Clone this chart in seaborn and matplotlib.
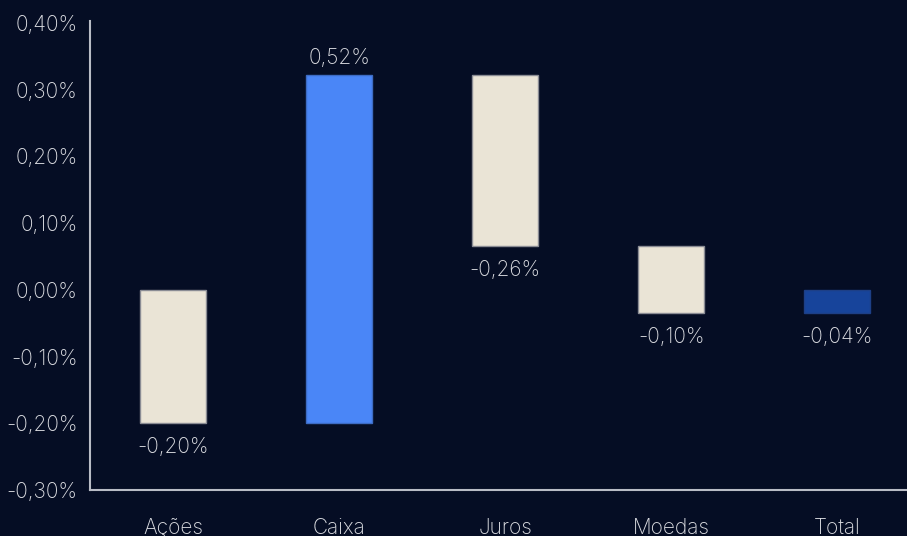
import matplotlib
matplotlib.use("Agg")
import matplotlib.pyplot as plt
import seaborn as sns
import numpy as np

# waterfall data (in %)
categories = ["Ações", "Caixa", "Juros", "Moedas", "Total"]
steps = [-0.20, 0.522, -0.257, -0.10]
labels = ["-0,20%", "0,52%", "-0,26%", "-0,10%", "-0,04%"]
yticks = [-0.30, -0.20, -0.10, 0.0, 0.10, 0.20, 0.30, 0.40]
ytick_labels = ["-0,30%", "-0,20%", "-0,10%", "0,00%", "0,10%", "0,20%", "0,30%", "0,40%"]

bg = "#050d24"
fg = "#dcdde2"
colors = ["#eae4d6", "#4a86f7", "#eae4d6", "#eae4d6", "#17449b"]
edges = ["#8a8c94", "#3d6cc4", "#8a8c94", "#8a8c94", "#1d3f86"]

# heights and bases: running total for steps, the total bar starts at zero
changes = steps + [sum(steps)]
bases = list(np.concatenate([[0], np.cumsum(steps[:-1])])) + [0]

sns.set_style("dark")
plt.rcParams["font.family"] = ["Inter", "DejaVu Sans"]

fig = plt.figure(figsize=(9.07, 5.36), dpi=100, facecolor=bg)
ax = fig.add_axes([90 / 907, 1 - 490 / 536, 1 - 90 / 907, (490 - 21) / 536])
ax.set_facecolor(bg)

sns.barplot(x=categories, y=changes, bottom=bases, width=0.4, ax=ax,
            color=colors[0], linewidth=1, saturation=1)
for p, c, e in zip(ax.patches, colors, edges):
    p.set_facecolor(c)
    p.set_edgecolor(e)

for i, (b, h, lab) in enumerate(zip(bases, changes, labels)):
    if h >= 0:
        ax.annotate(lab, (i, b + h), xytext=(0, 5), textcoords="offset points",
                    ha="center", va="bottom", color=fg, fontsize=15, fontweight="light")
    else:
        ax.annotate(lab, (i, b + h), xytext=(0, -10), textcoords="offset points",
                    ha="center", va="top", color=fg, fontsize=15, fontweight="light")

ax.set_xlim(-0.5, 4.42)
ax.set_ylim(-0.30, 0.403)
ax.set_yticks(yticks)
ax.set_yticklabels(ytick_labels)
ax.grid(False)
ax.tick_params(axis="both", length=0, colors=fg, labelsize=15)
ax.tick_params(axis="x", pad=20)
ax.tick_params(axis="y", pad=9)
for lbl in ax.get_xticklabels() + ax.get_yticklabels():
    lbl.set_fontweight("light")
for s in ["top", "right"]:
    ax.spines[s].set_visible(False)
for s in ["left", "bottom"]:
    ax.spines[s].set_visible(True)
    ax.spines[s].set_color("#b9bcc6")
    ax.spines[s].set_linewidth(1.5)

fig.savefig("out.png", dpi=100, facecolor=bg)
